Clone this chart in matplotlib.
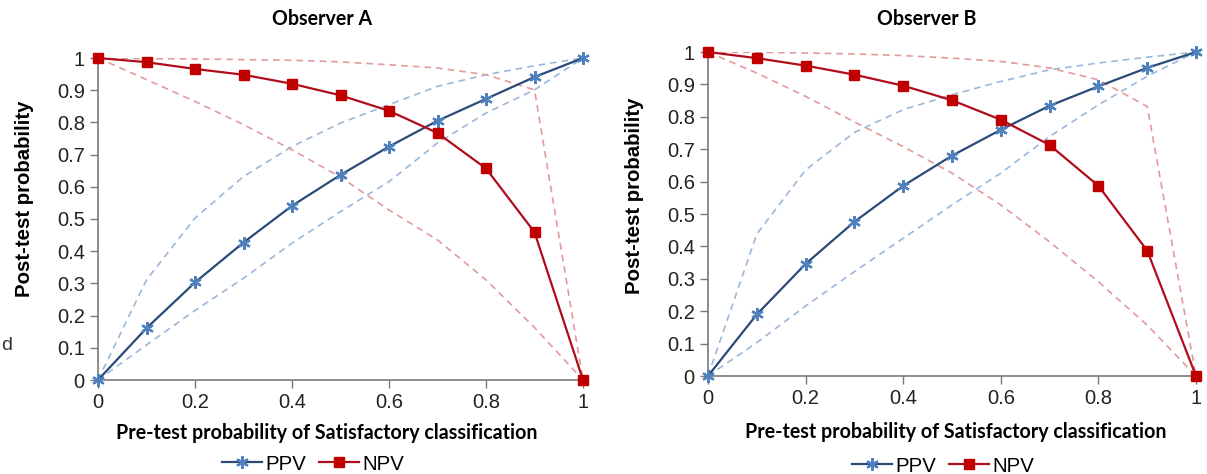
import matplotlib
matplotlib.use("Agg")
import matplotlib.pyplot as plt
import numpy as np

x = [0, 0.1, 0.2, 0.3, 0.4, 0.5, 0.6, 0.7, 0.8, 0.9, 1.0]

# Observer A
ppv_a = [0, 0.161, 0.303, 0.427, 0.541, 0.637, 0.725, 0.805, 0.873, 0.941, 1.0]
npv_a = [1.0, 0.987, 0.966, 0.948, 0.920, 0.884, 0.836, 0.767, 0.657, 0.459, 0]
ppv_a_hi = [0, 0.311, 0.503, 0.632, 0.725, 0.798, 0.855, 0.912, 0.948, 0.976, 1.0]
ppv_a_lo = [0, 0.109, 0.216, 0.316, 0.425, 0.523, 0.616, 0.736, 0.829, 0.901, 1.0]
npv_a_hi = [1.0, 0.998, 0.997, 0.995, 0.993, 0.988, 0.979, 0.969, 0.948, 0.901, 0]
npv_a_lo = [1.0, 0.933, 0.865, 0.793, 0.715, 0.630, 0.528, 0.435, 0.311, 0.163, 0]

# Observer B
ppv_b = [0, 0.190, 0.346, 0.476, 0.587, 0.680, 0.760, 0.834, 0.894, 0.951, 1.0]
npv_b = [1.0, 0.981, 0.958, 0.930, 0.896, 0.851, 0.791, 0.713, 0.587, 0.387, 0]
ppv_b_hi = [0, 0.438, 0.636, 0.752, 0.822, 0.868, 0.909, 0.945, 0.966, 0.984, 1.0]
ppv_b_lo = [0, 0.103, 0.216, 0.322, 0.425, 0.528, 0.626, 0.739, 0.837, 0.925, 1.0]
npv_b_hi = [1.0, 0.999, 0.997, 0.994, 0.989, 0.981, 0.971, 0.951, 0.914, 0.832, 0]
npv_b_lo = [1.0, 0.935, 0.863, 0.784, 0.708, 0.626, 0.528, 0.414, 0.291, 0.157, 0]

titles = ["Observer A", "Observer B"]
xticks = [0, 0.2, 0.4, 0.6, 0.8, 1.0]
xtick_labels = ["0", "0.2", "0.4", "0.6", "0.8", "1"]
yticks = [0, 0.1, 0.2, 0.3, 0.4, 0.5, 0.6, 0.7, 0.8, 0.9, 1.0]
ytick_labels = ["0", "0.1", "0.2", "0.3", "0.4", "0.5", "0.6", "0.7", "0.8", "0.9", "1"]

PPV_LINE = "#2B4A7A"
PPV_MK = "#4F81BD"
NPV_LINE = "#B00D1A"
NPV_MK = "#C00000"
PPV_DASH = "#9BB7D9"
NPV_DASH = "#E39A9A"
SPINE = "#7A7A7A"

fig = plt.figure(figsize=(12.07, 4.74), dpi=100)

axes_pos = [
    [98 / 1207, 1 - 380 / 474, (583 - 98) / 1207, (380 - 58) / 474],
    [708 / 1207, 1 - 376 / 474, (1196 - 708) / 1207, (376 - 52) / 474],
]
data = [
    (ppv_a, npv_a, ppv_a_hi, ppv_a_lo, npv_a_hi, npv_a_lo),
    (ppv_b, npv_b, ppv_b_hi, ppv_b_lo, npv_b_hi, npv_b_lo),
]
title_pos = [(322, 19), (927, 19)]
xlabel_pos = [(327, 433), (956, 432)]
ylabel_pos = [(25, 199), (635, 196)]
legend_pos = [(313, 464), (943, 466)]

asterisk = (6, 2, 0)

for i in range(2):
    ax = fig.add_axes(axes_pos[i])
    ppv, npv, ph, pl, nh, nl = data[i]
    ax.plot(x, ph, color=PPV_DASH, lw=1.2, ls=(0, (4, 3)), zorder=2)
    ax.plot(x, pl, color=PPV_DASH, lw=1.2, ls=(0, (4, 3)), zorder=2)
    ax.plot(x, nh, color=NPV_DASH, lw=1.2, ls=(0, (4, 3)), zorder=2)
    ax.plot(x, nl, color=NPV_DASH, lw=1.2, ls=(0, (4, 3)), zorder=2)
    l1, = ax.plot(x, ppv, color=PPV_LINE, lw=1.6, marker=asterisk, ms=9,
                  mec=PPV_MK, mfc=PPV_MK, mew=1.6, clip_on=False, zorder=4, label="PPV")
    l2, = ax.plot(x, npv, color=NPV_LINE, lw=1.6, marker="s", ms=7.5,
                  mec=NPV_MK, mfc=NPV_MK, clip_on=False, zorder=5, label="NPV")
    ax.set_xlim(0, 1)
    ax.set_ylim(0, 1)
    ax.set_xticks(xticks)
    ax.set_xticklabels(xtick_labels)
    ax.set_yticks(yticks)
    ax.set_yticklabels(ytick_labels)
    for s in ["top", "right"]:
        ax.spines[s].set_visible(False)
    for s in ["left", "bottom"]:
        ax.spines[s].set_color(SPINE)
        ax.spines[s].set_linewidth(1.2)
    ax.tick_params(axis="both", direction="out", length=6, width=1, color=SPINE,
                   labelsize=14.5, labelcolor="#222222", pad=3.5)
    for lab in ax.get_xticklabels() + ax.get_yticklabels():
        lab.set_family(["Liberation Sans", "DejaVu Sans"])

    fig.text(title_pos[i][0] / 1207, 1 - title_pos[i][1] / 474, titles[i],
             ha="center", va="center", fontsize=14.1, fontweight="bold",
             family=["Lato", "DejaVu Sans"])
    fig.text(xlabel_pos[i][0] / 1207, 1 - xlabel_pos[i][1] / 474,
             "Pre-test probability of Satisfactory classification",
             ha="center", va="center", fontsize=14.1, fontweight="bold",
             family=["Lato", "DejaVu Sans"])
    fig.text(ylabel_pos[i][0] / 1207, 1 - ylabel_pos[i][1] / 474, "Post-test probability",
             ha="center", va="center", rotation=90, fontsize=14.7, fontweight="bold",
             family=["Liberation Sans", "DejaVu Sans"])
    fig.legend(handles=[l1, l2], loc="center",
               bbox_to_anchor=(legend_pos[i][0] / 1207, 1 - legend_pos[i][1] / 474),
               ncol=2, frameon=False, handlelength=2.0, handletextpad=0.15,
               columnspacing=0.6, borderpad=0.2,
               prop={"family": "Liberation Sans", "size": 14.7})

fig.text(0.0008, 1 - 345 / 474, "d", ha="left", va="center", fontsize=14,
         family=["Liberation Sans", "DejaVu Sans"], color="#333333")

fig.savefig("out.png", dpi=100)
